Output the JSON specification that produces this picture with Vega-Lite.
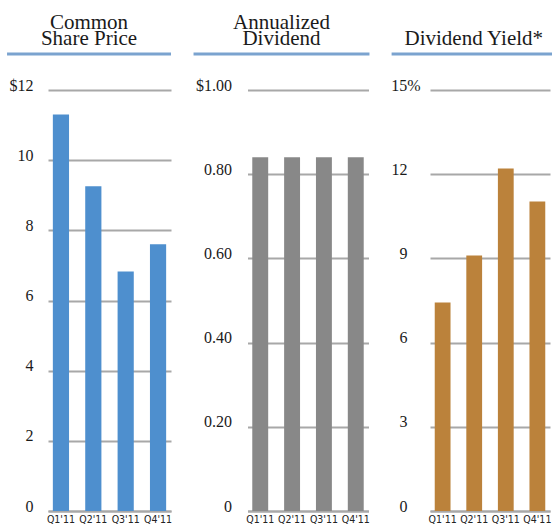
{
  "$schema": "https://vega.github.io/schema/vega-lite/v6.json",
  "background": "white",
  "padding": {"left": 5, "top": 12, "right": 0, "bottom": 0},
  "config": {
    "view": {"stroke": null},
    "font": "Liberation Serif",
    "title": {"font": "Liberation Serif", "fontSize": 21, "fontWeight": "normal", "color": "#1a1a1a", "lineHeight": 16, "offset": 3, "anchor": "middle", "frame": "bounds"},
    "axisY": {"grid": true, "gridColor": "#a8a8a8", "gridWidth": 2, "domain": false, "ticks": false, "labelFont": "Liberation Serif", "labelFontSize": 16, "labelColor": "#1a1a1a", "labelBaseline": "alphabetic", "labelAlign": "right", "title": null},
    "axisX": {"domain": true, "domainColor": "#a8a8a8", "domainWidth": 2, "ticks": false, "grid": false, "labelFont": "Liberation Sans Narrow, DejaVu Sans Condensed", "labelFontSize": 10.5, "labelColor": "#222222", "labelPadding": 3, "labelAngle": 0, "title": null}
  },
  "spacing": 18.5,
  "hconcat": [
    {
      "spacing": 21,
      "vconcat": [
        {
          "width": 123, "height": 4,
          "title": {"text": ["Common", "Share Price"]},
          "data": {"values": [{"start": -0.333, "end": 1, "level": 0.5}]},
          "mark": {"type": "rule", "color": "#7ba3cf", "strokeWidth": 3},
          "encoding": {
            "x": {"field": "start", "type": "quantitative", "scale": {"domain": [0, 1], "nice": false, "zero": false}, "axis": null},
            "x2": {"field": "end"},
            "y": {"field": "level", "type": "quantitative", "scale": {"domain": [0, 1]}, "axis": null}
          }
        },
        {
          "width": 123, "height": 421,
          "data": {"values": [
            {"quarter": "Q1'11", "value": 11.3},
            {"quarter": "Q2'11", "value": 9.26},
            {"quarter": "Q3'11", "value": 6.83},
            {"quarter": "Q4'11", "value": 7.6}
          ]},
          "mark": {"type": "bar", "color": "#4e8fce"},
          "encoding": {
            "x": {"field": "quarter", "type": "nominal", "sort": null, "scale": {"paddingInner": 0.5, "paddingOuter": 0.15}},
            "y": {"field": "value", "type": "quantitative", "scale": {"domain": [0, 12], "nice": false},
                  "axis": {"values": [0, 2, 4, 6, 8, 10, 12], "labelExpr": "datum.value == 12 ? '$12' : datum.label", "labelPadding": 15}}
          }
        }
      ]
    },
    {
      "spacing": 21,
      "vconcat": [
        {
          "width": 121, "height": 4,
          "title": {"text": ["Annualized", "Dividend"]},
          "data": {"values": [{"start": -0.446, "end": 1.008, "level": 0.5}]},
          "mark": {"type": "rule", "color": "#7ba3cf", "strokeWidth": 3},
          "encoding": {
            "x": {"field": "start", "type": "quantitative", "scale": {"domain": [0, 1], "nice": false, "zero": false}, "axis": null},
            "x2": {"field": "end"},
            "y": {"field": "level", "type": "quantitative", "scale": {"domain": [0, 1]}, "axis": null}
          }
        },
        {
          "width": 121, "height": 421,
          "data": {"values": [
            {"quarter": "Q1'11", "value": 0.84},
            {"quarter": "Q2'11", "value": 0.84},
            {"quarter": "Q3'11", "value": 0.84},
            {"quarter": "Q4'11", "value": 0.84}
          ]},
          "mark": {"type": "bar", "color": "#888888"},
          "encoding": {
            "x": {"field": "quarter", "type": "nominal", "sort": null, "scale": {"paddingInner": 0.5, "paddingOuter": 0.15}},
            "y": {"field": "value", "type": "quantitative", "scale": {"domain": [0, 1], "nice": false},
                  "axis": {"values": [0, 0.2, 0.4, 0.6, 0.8, 1], "labelExpr": "datum.value == 1 ? '$1.00' : (datum.value == 0 ? '0' : format(datum.value, '.2f'))", "labelPadding": 16}}
          }
        }
      ]
    },
    {
      "spacing": 21,
      "vconcat": [
        {
          "width": 120, "height": 4,
          "title": {"text": ["Dividend Yield*"]},
          "data": {"values": [{"start": -0.32, "end": 1.05, "level": 0.5}]},
          "mark": {"type": "rule", "color": "#7ba3cf", "strokeWidth": 3},
          "encoding": {
            "x": {"field": "start", "type": "quantitative", "scale": {"domain": [0, 1], "nice": false, "zero": false}, "axis": null},
            "x2": {"field": "end"},
            "y": {"field": "level", "type": "quantitative", "scale": {"domain": [0, 1]}, "axis": null}
          }
        },
        {
          "width": 120, "height": 421,
          "data": {"values": [
            {"quarter": "Q1'11", "value": 7.43},
            {"quarter": "Q2'11", "value": 9.1},
            {"quarter": "Q3'11", "value": 12.2},
            {"quarter": "Q4'11", "value": 11.03}
          ]},
          "mark": {"type": "bar", "color": "#bb823b"},
          "encoding": {
            "x": {"field": "quarter", "type": "nominal", "sort": null, "scale": {"paddingInner": 0.5, "paddingOuter": 0.15}},
            "y": {"field": "value", "type": "quantitative", "scale": {"domain": [0, 15], "nice": false},
                  "axis": {"values": [0, 3, 6, 9, 12, 15], "labelExpr": "datum.value == 15 ? '15%' : datum.label", "labelPadding": {"condition": {"test": "datum.value == 15", "value": 10}, "value": 23}}}
          }
        }
      ]
    }
  ]
}
